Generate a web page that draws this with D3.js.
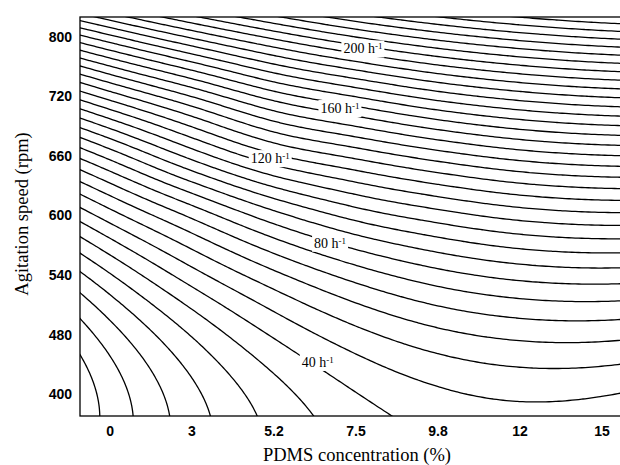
<!DOCTYPE html>
<html>
<head>
<meta charset="utf-8">
<script src="https://cdn.jsdelivr.net/npm/d3@7"></script>
<style>
  body { margin: 0; background: #fff; }
  .axis-title { font-family: "Liberation Serif", "Times New Roman", serif; font-size: 18.5px; fill: #000; }
  .clabel { font-family: "Liberation Serif", "Times New Roman", serif; font-size: 14px; fill: #000; }
</style>
</head>
<body>
<svg id="chart" width="620" height="465"></svg>
<script>
// tick labels (evenly spaced on the chart, not linear in value)
const pdmsLabels = ["0", "3", "5.2", "7.5", "9.8", "12", "15"];
const speedLabels = ["400", "480", "540", "600", "660", "720", "800"];

// kLa (h-1) on a grid of label positions -1..7
// (the outer ring sits just outside the frame). rows = agitation, cols = PDMS
const gridStart = -1;
const kla = [
  [-13.7,   3.4,  17.2,  27.9,  35.3,  39.6,  40.7,  38.5,  33.2],
  [-16.3,   2.7,  18.3,  30.6,  39.7,  45.4,  47.9,  47.1,  43.0],
  [-10.0,  10.2,  27.1,  40.8,  51.1,  58.1,  61.7,  62.1,  59.2],
  [  5.0,  26.0,  43.8,  58.2,  69.5,  77.5,  82.2,  83.7,  81.9],
  [ 28.8,  50.1,  68.1,  84.1,  95.9, 103.6, 109.2, 111.7, 111.0],
  [ 61.5,  82.3, 102.3, 118.8, 128.4, 136.6, 142.9, 146.2, 146.6],
  [102.9, 122.9, 140.2, 156.4, 167.0, 176.4, 183.1, 187.2, 188.6],
  [153.1, 171.7, 187.9, 201.9, 213.6, 222.9, 229.9, 234.7, 237.1],
  [212.1, 228.7, 243.4, 256.2, 267.2, 276.2, 283.4, 288.6, 292.0]
];

// contour spacing and the labelled contours
const levelStep = 20 / 3;
const labelLevels = [40, 80, 120, 160, 200];
const labelX = [2.54, 2.69, 1.96, 2.81, 3.09];
const labelY = [0.54, 2.54, 3.96, 4.80, 5.80];

const svg = d3.select("#chart");
const margin = { left: 80, top: 17, right: 631, bottom: 416 };

const x = d3.scaleLinear().domain([-0.36, 6.36]).range([margin.left, margin.right]);
const y = d3.scaleLinear().domain([-0.365, 6.33]).range([margin.bottom, margin.top]);

// grid node with quadratic extrapolation past the edge
const nRows = kla.length, nCols = kla[0].length;
function node(i, j) {
  if (j < 0) return 3 * node(i, 0) - 3 * node(i, 1) + node(i, 2);
  if (j > nRows - 1) return 3 * node(i, nRows - 1) - 3 * node(i, nRows - 2) + node(i, nRows - 3);
  const row = kla[j];
  if (i < 0) return 3 * row[0] - 3 * row[1] + row[2];
  if (i > nCols - 1) return 3 * row[nCols - 1] - 3 * row[nCols - 2] + row[nCols - 3];
  return row[i];
}
function cr(p0, p1, p2, p3, t) {
  return p1 + 0.5 * t * (p2 - p0 + t * (2 * p0 - 5 * p1 + 4 * p2 - p3 + t * (3 * (p1 - p2) + p3 - p0)));
}
function surface(xv, yv) {
  let u = xv - gridStart, v = yv - gridStart;
  let iu = Math.max(0, Math.min(nCols - 2, Math.floor(u)));
  let iv = Math.max(0, Math.min(nRows - 2, Math.floor(v)));
  const tu = u - iu, tv = v - iv;
  const r = [-1, 0, 1, 2].map(dj =>
    cr(node(iu - 1, iv + dj), node(iu, iv + dj), node(iu + 1, iv + dj), node(iu + 2, iv + dj), tu));
  return cr(r[0], r[1], r[2], r[3], tv);
}

// sample a little past the frame, so the closing edges of the rings get clipped
const step = 0.04, x0 = -0.6, n = 181;
const values = new Array(n * n);
for (let j = 0; j < n; j++) {
  for (let i = 0; i < n; i++) {
    values[j * n + i] = surface(x0 + i * step, x0 + j * step);
  }
}
const levels = d3.range(0, 46).map(k => k * levelStep);
const contours = d3.contours().size([n, n]).thresholds(levels)(values);

const proj = d3.geoTransform({
  point: function(cx, cy) {
    this.stream.point(x(x0 + (cx - 0.5) * step), y(x0 + (cy - 0.5) * step));
  }
});
const path = d3.geoPath(proj);

svg.append("clipPath").attr("id", "plot-clip")
  .append("rect")
  .attr("x", margin.left).attr("y", margin.top)
  .attr("width", margin.right - margin.left).attr("height", margin.bottom - margin.top);

svg.append("g")
  .attr("clip-path", "url(#plot-clip)")
  .selectAll("path")
  .data(contours)
  .join("path")
  .attr("d", path)
  .attr("fill", "none")
  .attr("stroke", "#000")
  .attr("stroke-width", 1.3);

// contour labels with a white box that breaks the line
const labels = svg.append("g");
labelLevels.forEach((lv, k) => {
  const g = labels.append("g").attr("transform", `translate(${x(labelX[k])},${y(labelY[k])})`);
  const box = g.append("rect").attr("fill", "#fff");
  const t = g.append("text").attr("class", "clabel").attr("text-anchor", "middle").attr("dy", "0.35em");
  t.append("tspan").text(`${lv} h`);
  t.append("tspan").attr("dy", "-0.45em").attr("font-size", "9px").text("-1");
  const bb = t.node().getBBox();
  box.attr("x", bb.x - 2).attr("y", bb.y - 1).attr("width", bb.width + 4).attr("height", bb.height + 2);
});

// frame
svg.append("rect")
  .attr("x", margin.left).attr("y", margin.top)
  .attr("width", margin.right - margin.left).attr("height", margin.bottom - margin.top)
  .attr("fill", "none").attr("stroke", "#000").attr("stroke-width", 1.3);

// axes
const xAxis = svg.append("g")
  .attr("transform", `translate(0,${margin.bottom})`)
  .call(d3.axisBottom(x).tickValues(d3.range(7)).tickFormat(i => pdmsLabels[i]).tickSize(0).tickPadding(10));
const yAxis = svg.append("g")
  .attr("transform", `translate(${margin.left},0)`)
  .call(d3.axisLeft(y).tickValues(d3.range(7)).tickFormat(j => speedLabels[j]).tickSize(0).tickPadding(8));
[xAxis, yAxis].forEach(a => {
  a.select(".domain").remove();
  a.attr("font-family", "'Liberation Sans', Arial, sans-serif")
   .attr("font-size", 14).attr("font-weight", "bold");
  a.selectAll("text").attr("fill", "#000");
});

svg.append("text")
  .attr("class", "axis-title")
  .attr("x", 357).attr("y", 461)
  .attr("text-anchor", "middle")
  .text("PDMS concentration (%)");

svg.append("text")
  .attr("class", "axis-title")
  .attr("transform", "translate(28,214) rotate(-90)")
  .attr("text-anchor", "middle")
  .text("Agitation speed (rpm)");
</script>
</body>
</html>
